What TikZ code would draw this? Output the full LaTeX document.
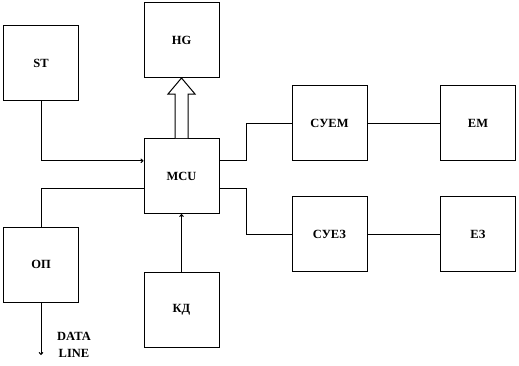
\documentclass[tikz,border=0pt]{standalone}
\usepackage{fontspec}
\setmainfont{Liberation Serif}
\usetikzlibrary{calc, positioning, arrows.meta}

\begin{document}
\begin{tikzpicture}[x=1pt, y=1pt,
  blk/.style={draw, line width=1pt, fill=white, minimum width=75pt,
              minimum height=75pt, inner sep=0pt, align=center,
              font=\fontsize{12.5}{13}\selectfont\bfseries},
  wire/.style={line width=1pt},
  arr/.style={wire, -{To[length=3pt, width=4.5pt]}},
]
\useasboundingbox (0,0) rectangle (519,-365);
% blocks
\node[blk] (st)   at (41,-63)     {ST};
\node[blk] (hg)   at (181.5,-40)  {HG};
\node[blk] (mcu)  at (181.5,-176) {MCU};
\node[blk] (op)   at (41,-264.5)  {ОП};
\node[blk] (kd)   at (181.5,-309.5) {КД};
\node[blk] (suem) at (329.5,-123) {СУЕМ};
\node[blk] (em)   at (478,-123)   {ЕМ};
\node[blk] (suez) at (329.5,-234) {СУЕЗ};
\node[blk] (ez)   at (478,-234)   {ЕЗ};
\coordinate (dl) at (41,-355);
\node[font=\fontsize{12.5}{17}\selectfont\bfseries, align=center] (dltext)
  at (74,-345) {DATA\\LINE};

% connections
\draw[arr] (st.south) |- ($(mcu.north west)!0.3!(mcu.south west)$);
\draw[wire] ($(mcu.north west)!0.67!(mcu.south west)$) -| (op.north);
\draw[arr] (op.south) -- (dl);
\draw[arr] (kd.north) -- (mcu.south);
\draw[wire] ($(mcu.north east)!0.3!(mcu.south east)$) -- ++(27,0) |- (suem.west);
\draw[wire] ($(mcu.north east)!0.66!(mcu.south east)$) -- ++(27,0) |- (suez.west);
\draw[wire] (suem) -- (em);
\draw[wire] (suez) -- (ez);

% hollow bus arrow
\draw[wire, fill=white] ($(mcu.north)+(-6.5,0)$) -- ++(0,44) -- ++(-7,0)
  -- (hg.south) -- ($(mcu.north)+(13.5,44)$) -- ++(-7,0)
  -- ($(mcu.north)+(6.5,0)$);
\end{tikzpicture}
\end{document}
